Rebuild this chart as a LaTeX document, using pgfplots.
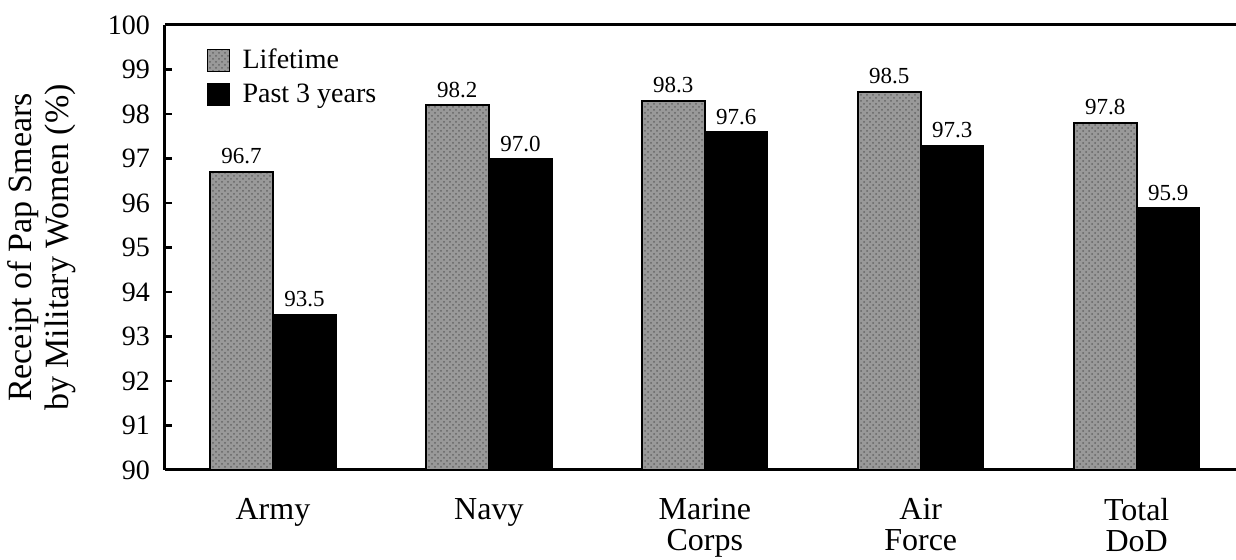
\documentclass[border=0pt]{standalone}
\usepackage{pgfplots}
\pgfplotsset{compat=1.18}
\usepackage{fontspec}
\setmainfont{Liberation Serif}
\usetikzlibrary{patterns,calc}
\definecolor{barGray}{gray}{0.6}
\begin{document}
\begin{tikzpicture}
\begin{axis}[
  scale only axis,
  width=535.5pt, height=222.5pt,
  xmin=-0.5, xmax=4.46,
  ymin=90, ymax=100,
  ytick={90,91,...,100},
  xtick={0,1,2,3,4},
  xticklabels={Army, Navy, {Marine\\Corps}, {Air\\Force}, {Total\\DoD}},
  axis x line*=bottom,
  axis y line*=left,
  axis line style={line width=1.5pt, -},
  ytick pos=left,
  tick align=inside,
  major tick length=3.5pt,
  ytick style={line width=1.3pt, black},
  xtick style={draw=none},
  ybar=0pt,
  bar width=0.292,
  yticklabel style={font=\fontsize{14}{15}\selectfont, xshift=-4pt},
  xticklabel style={font=\fontsize{16}{15.5}\selectfont, align=center, yshift=-7pt},
  /pgf/number format/assume math mode=true,
  ylabel={Receipt of Pap Smears\\by Military Women (\%)},
  ylabel style={align=center, font=\fontsize{17}{18.5}\selectfont, at={(axis description cs:-0.115,0.5)}, anchor=center},
  nodes near coords,
  nodes near coords style={font=\fontsize{11.5}{12}\selectfont, /pgf/number format/.cd, fixed, fixed zerofill, precision=1, assume math mode=true},
  legend style={at={(axis description cs:0.033,0.965)}, anchor=north west, draw=none, fill=none,
    font=\fontsize{14}{15}\selectfont, row sep=2pt, cells={anchor=west}},
  legend image code/.code={\draw[#1, line width=0.8pt] (0pt,-5.5pt) rectangle (11pt,5.5pt); \path (15pt,0pt);},
  clip=false,
]
\addplot[draw=black, line width=1pt, fill=barGray, postaction={pattern=crosshatch dots, pattern color=black!60}] coordinates {(0,96.7) (1,98.2) (2,98.3) (3,98.5) (4,97.8)};
\addplot[draw=black, fill=black] coordinates {(0,93.5) (1,97.0) (2,97.6) (3,97.3) (4,95.9)};
\legend{Lifetime, Past 3 years}
\draw[line width=1.5pt] (rel axis cs:0,1) -- (rel axis cs:1,1);
\coordinate (bl) at (rel axis cs:0,0);
\coordinate (tr) at (rel axis cs:1,1);
\end{axis}
\pgfresetboundingbox
\path[use as bounding box] ($(bl)+(-82.5pt,-45pt)$) rectangle ($(tr)+(0pt,12.5pt)$);
\end{tikzpicture}
\end{document}
